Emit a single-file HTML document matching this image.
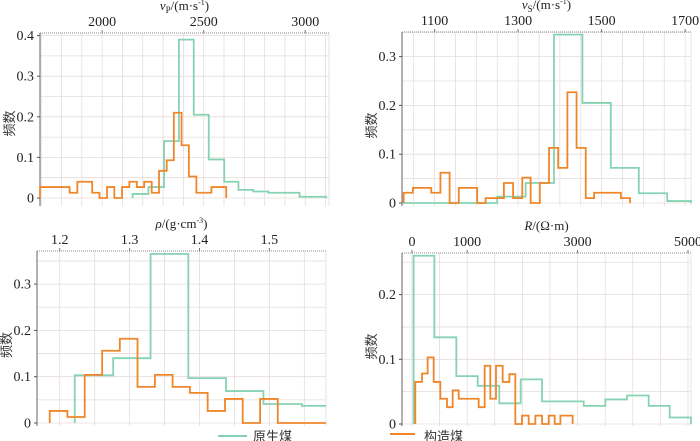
<!DOCTYPE html>
<html><head><meta charset="utf-8">
<style>
body{margin:0;background:#fff;width:700px;height:441px;overflow:hidden}
svg{display:block;font-family:"Liberation Serif","Noto Serif CJK SC",serif}
</style></head>
<body>
<svg id="c" width="700" height="441" viewBox="0 0 700 441" xmlns="http://www.w3.org/2000/svg"></svg>
<script>
// Panel 1: vP
const vpTicks=[2000,2500,3000];
const vpGreenEdges=[2150,2228,2305,2378,2451,2525,2601,2671,2744,2818,2972,3103];
const vpGreenVals=[0.01,0.027,0.14,0.39,0.205,0.095,0.04,0.02,0.016,0.013,0.003];
const vpOrangeEdges=[1694,1840,1878,1951,1987,2024,2060,2098,2134,2171,2207,2244,2280,2318,2353,2391,2427,2464,2538,2611];
const vpOrangeVals=[0.027,0.013,0.04,0.013,0,0.027,0,0.027,0.04,0.027,0.04,0.013,0.067,0.093,0.21,0.13,0.053,0.013,0.027];
const vpYTicks=[0,0.1,0.2,0.3,0.4];
// Panel 2: vS
const vsTicks=[1100,1300,1500,1700];
const vsGreenEdges=[1024,1250,1318,1386,1454,1522,1589,1657,1714];
const vsGreenVals=[0,0.013,0.041,0.345,0.205,0.072,0.02,0.004];
const vsOrangeEdges=[1026,1048,1092,1114,1136,1158,1202,1222,1266,1288,1310,1330,1352,1374,1396,1418,1440,1462,1482,1546,1568];
const vsOrangeVals=[0.021,0.031,0.021,0.062,0,0.031,0,0.01,0.041,0.01,0.052,0,0.041,0.113,0.072,0.227,0.113,0.01,0.021,0.01];
const vsYTicks=[0,0.1,0.2,0.3];
// Panel 3: rho
const rhoTicks=[1.2,1.3,1.4,1.5];
const rhoGreenEdges=[1.2215,1.2765,1.330,1.384,1.438,1.4915,1.5465,1.581];
const rhoGreenVals=[0.103,0.14,0.365,0.097,0.069,0.041,0.037];
const rhoOrangeEdges=[1.1857,1.211,1.2358,1.2607,1.286,1.3113,1.3362,1.3615,1.3863,1.4117,1.4365,1.4618,1.4867,1.512,1.581];
const rhoOrangeVals=[0.026,0.013,0.104,0.156,0.182,0.078,0.104,0.078,0.065,0.026,0.052,0,0.052,0];
const rhoYTicks=[0,0.1,0.2,0.3];
// Panel 4: R
const rTicks=[0,1000,3000,5000];
const rGreenEdges=[30,405,803,1190,1582,1969,2356,3111,3503,3896,4288,4669,5055];
const rGreenVals=[0.26,0.134,0.074,0.059,0.032,0.069,0.035,0.028,0.038,0.044,0.028,0.01];
const rOrangeEdges=[60,181,284,393,513,634,737,846,1208,1317,1419,1522,1643,1764,1872,1993,2114,2235,2356,2476,2585,2688,2911];
const rOrangeVals=[0.065,0.078,0.103,0.065,0.039,0.026,0.052,0.039,0.026,0.09,0.039,0.09,0.065,0.077,0,0.013,0,0.013,0,0.013,0,0.013];
const rYTicks=[0,0.1,0.2];

const NS="http://www.w3.org/2000/svg";
const svg=document.getElementById('c');
function mk(tag,attrs,parent){const e=document.createElementNS(NS,tag);for(const k in attrs)e.setAttribute(k,attrs[k]);(parent||svg).appendChild(e);return e;}

function panel(o){
  const g=mk('g',{});
  
  
  const sx=v=>o.L+(v-o.x0)/(o.x1-o.x0)*(o.R-o.L);
  const sy=v=>o.Z-v/o.yUnit*o.yPix;
  for(let v=Math.ceil(o.x0/o.gx)*o.gx;v<=o.x1+1e-9;v+=o.gx){const x=sx(v);
    mk('line',{x1:x,x2:x,y1:o.T,y2:o.B,stroke:'#e6dcdc','stroke-width':0.8},g);}
  for(let v=0;sy(v)>=o.T;v+=0.05){const y=sy(v);
    mk('line',{x1:o.L,x2:o.R,y1:y,y2:y,stroke:'#e6dcdc','stroke-width':0.8},g);}
  const ta=mk('line',{x1:o.L,x2:o.R,y1:o.T,y2:o.T,stroke:'#888','stroke-width':1,'stroke-dasharray':'1 1'},g);
  
  const la=mk('line',{x1:o.L,x2:o.L,y1:o.T,y2:o.B,stroke:'#666','stroke-width':1},g);
  
  mk('line',{x1:o.R,x2:o.R,y1:o.T,y2:o.B,stroke:'#ddd','stroke-width':0.8},g);
  o.xt.forEach(v=>{const x=sx(v);
    mk('line',{x1:x,x2:x,y1:o.T-3,y2:o.T,stroke:'#777'},g);
    const t=mk('text',{x:x,y:o.T-7,'font-size':14,'text-anchor':'middle',fill:'#222'},g);
    t.textContent=v;});
  o.yt.forEach(v=>{const y=sy(v);
    mk('line',{x1:o.L-3,x2:o.L,y1:y,y2:y,stroke:'#555'},g);
    const t=mk('text',{x:o.L-6,y:y+4.5,'font-size':14,'text-anchor':'end',fill:'#222'},g);
    t.textContent=v===0?'0':v.toFixed(1);});
  const tt=mk('text',{x:(o.L+o.R)/2,y:o.T-23,'font-size':13,'text-anchor':'middle',fill:'#222'},g);
  
  tt.innerHTML=o.title;
  const yl=mk('text',{x:0,y:0,'font-size':13,'text-anchor':'middle',fill:'#333',transform:`translate(${o.L-26},${(o.T+o.Z)/2+8}) rotate(-90)`,'font-family':'"Noto Sans CJK SC",sans-serif'},g);
  yl.textContent='频数';
  function step(edges,vals,color,name){
    let d=`M${sx(edges[0])},${sy(0)}`;
    vals.forEach((v,i)=>{d+=` L${sx(edges[i])},${sy(v)} L${sx(edges[i+1])},${sy(v)}`;});
    if(o.drop)d+=` L${sx(edges[edges.length-1])},${sy(0)}`;
    const p=mk('path',{d:d,fill:'none',stroke:color,'stroke-width':1.8},g);
    
  }
  step(o.ge,o.gv,'#86d3b3','series-yuanshengmei');
  step(o.oe,o.ov,'#f0862a','series-gouzaomei');
}
panel({name:'panel-vp',L:40,R:329,T:33,B:206,Z:198,x0:1694,x1:3117,gx:100,yUnit:0.1,yPix:40.6,xt:vpTicks,yt:vpYTicks,
  title:'<tspan font-style="italic">v</tspan><tspan font-size="9" dy="3">P</tspan><tspan dy="-3">/(m·s</tspan><tspan font-size="8" dy="-5">-1</tspan><tspan dy="5">)</tspan>',
  ge:vpGreenEdges,gv:vpGreenVals,oe:vpOrangeEdges,ov:vpOrangeVals,drop:true});
panel({name:'panel-vs',L:402,R:691,T:32,B:206,Z:203,x0:1022,x1:1714,gx:50,yUnit:0.1,yPix:48.8,xt:vsTicks,yt:vsYTicks,
  title:'<tspan font-style="italic">v</tspan><tspan font-size="9" dy="3">S</tspan><tspan dy="-3">/(m·s</tspan><tspan font-size="8" dy="-5">-1</tspan><tspan dy="5">)</tspan>',
  ge:vsGreenEdges,gv:vsGreenVals,oe:vsOrangeEdges,ov:vsOrangeVals,drop:true});
panel({name:'panel-rho',L:37,R:326,T:251,B:426,Z:423,x0:1.1675,x1:1.581,gx:0.05,yUnit:0.1,yPix:46.3,xt:rhoTicks,yt:rhoYTicks,
  title:'<tspan font-style="italic">ρ</tspan>/(g·cm<tspan font-size="8" dy="-5">-3</tspan><tspan dy="5">)</tspan>',
  ge:rhoGreenEdges,gv:rhoGreenVals,oe:rhoOrangeEdges,ov:rhoOrangeVals,drop:false});
panel({name:'panel-r',L:402,R:691,T:253,B:426,Z:424,x0:-181,x1:5055,gx:500,yUnit:0.1,yPix:64.7,xt:rTicks,yt:rYTicks,
  title:'<tspan font-style="italic">R</tspan>/(Ω·m)',
  ge:rGreenEdges,gv:rGreenVals,oe:rOrangeEdges,ov:rOrangeVals,drop:true});
const lg=mk('g',{});
mk('line',{x1:218,x2:247,y1:436,y2:436,stroke:'#86d3b3','stroke-width':2},lg);
const l1=mk('text',{x:253,y:441,'font-size':13,fill:'#333','font-family':'"Noto Sans CJK SC",sans-serif'},lg);
l1.textContent='原生煤';
mk('line',{x1:390,x2:415,y1:434,y2:434,stroke:'#f0862a','stroke-width':2},lg);
const l2=mk('text',{x:424,y:441,'font-size':13,fill:'#333','font-family':'"Noto Sans CJK SC",sans-serif'},lg);
l2.textContent='构造煤';
</script>
</body></html>
